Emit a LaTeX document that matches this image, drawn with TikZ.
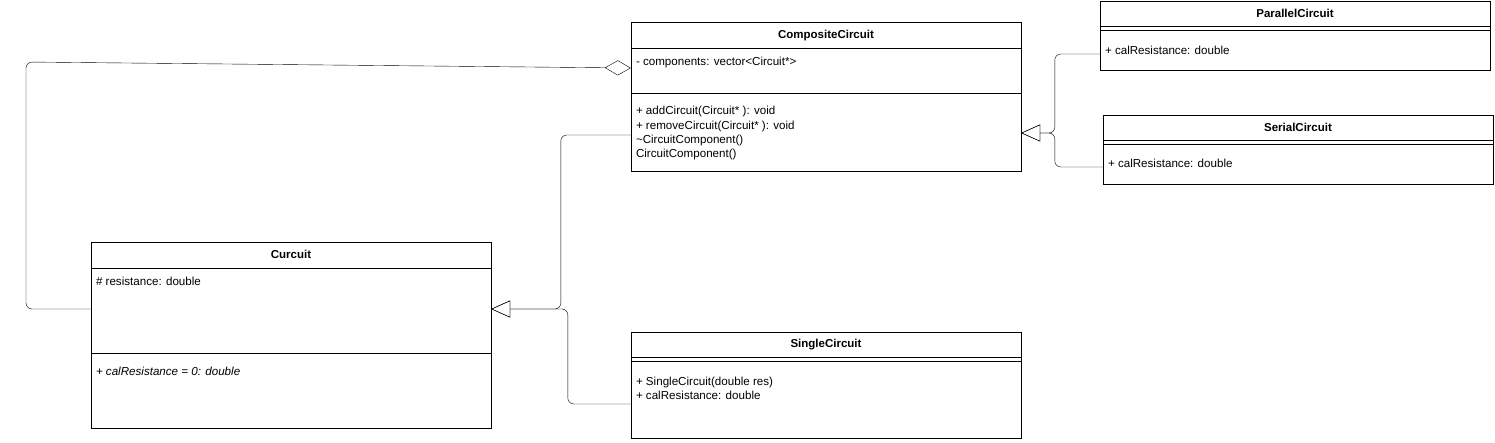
\documentclass[tikz,border=0pt]{standalone}
\usepackage{fontspec}
\setmainfont{Liberation Sans}
\usetikzlibrary{arrows.meta,positioning,calc}
\tikzset{
    x=1pt,y=-1pt,line width=1pt,
    cls/.style ={rectangle, draw, inner sep=0pt},
    title/.style = {inner sep=0pt, font=\fontsize{11.5}{14}\selectfont\bfseries},
    attr/.style = {inner sep=0pt, anchor=west, align=left, font=\fontsize{11.6}{14.3}\selectfont},
    inherit/.style={-{Triangle[open,length=19pt,width=17pt]}, rounded corners=6pt},
    aggr/.style={-{Diamond[open,length=26pt,width=15pt]}, rounded corners=6pt}
}

\begin{document}
\begin{tikzpicture}
	\useasboundingbox (0,0) rectangle (1495,442);

	% class boxes
	\node[cls, minimum width=390, minimum height=149] (comp) at (826,96.5) {};
	\node[cls, minimum width=390, minimum height=69] (par) at (1295,35.5) {};
	\node[cls, minimum width=390, minimum height=69] (ser) at (1298,149.5) {};
	\node[cls, minimum width=400, minimum height=186] (cur) at (291,335) {};
	\node[cls, minimum width=390, minimum height=106] (sing) at (826,385) {};

	% separators
	\draw ([yshift=-26]comp.north west) -- ([yshift=-26]comp.north east);
	\draw ([yshift=-71]comp.north west) -- ([yshift=-71]comp.north east);
	\draw ([yshift=-26]cur.north west) -- ([yshift=-26]cur.north east);
	\draw ([yshift=-111]cur.north west) -- ([yshift=-111]cur.north east);
	\foreach \c in {par,ser,sing}{
		\draw ([yshift=-25]\c.north west) -- ([yshift=-25]\c.north east);
		\draw ([yshift=-29]\c.north west) -- ([yshift=-29]\c.north east);
	}

	% titles
	\node[title] (compT) at ([yshift=-13.5]comp.north) {CompositeCircuit};
	\node[title] (parT) at ([yshift=-13]par.north) {ParallelCircuit};
	\node[title] (serT) at ([yshift=-13]ser.north) {SerialCircuit};
	\node[title] (curT) at ([yshift=-13]cur.north) {Curcuit};
	\node[title] (singT) at ([yshift=-13]sing.north) {SingleCircuit};

	% members
	\node[attr] (compA) at ([xshift=5,yshift=-40.5]comp.north west) {- components: vector<Circuit*>};
	\node[attr] (compM) at ([xshift=5,yshift=-111.5]comp.north west)
		{+ addCircuit(Circuit* ): void\\+ removeCircuit(Circuit* ): void\\\char`~CircuitComponent()\\CircuitComponent()};
	\node[attr] (parM) at ([xshift=5,yshift=-49.5]par.north west) {+ calResistance: double};
	\node[attr] (serM) at ([xshift=5,yshift=-48.5]ser.north west) {+ calResistance: double};
	\node[attr] (curA) at ([xshift=5,yshift=-39.5]cur.north west) {\# resistance: double};
	\node[attr] (curM) at ([xshift=5,yshift=-129.5]cur.north west) {\itshape + calResistance = 0: double};
	\node[attr] (singM) at ([xshift=5,yshift=-56.5]sing.north west)
		{+ SingleCircuit(double res)\\+ calResistance: double};

	% connectors
	\coordinate (bend) at (26,62);
	\draw[aggr] ([yshift=26]cur.west) -| (bend) -- ([yshift=28.5]comp.west);
	\draw[inherit] ([yshift=-38.5]comp.west) -- ++(-70,0) |- ([yshift=26]cur.east);
	\draw[inherit] ([yshift=-19]sing.west) -- ++(-63,0) |- ([yshift=26]cur.east);
	\draw[inherit] ([yshift=-18.5]par.west) -- ++(-45,0) |- ([yshift=-36.5]comp.east);
	\draw[inherit] ([yshift=-17.5]ser.west) -- ++(-48,0) |- ([yshift=-36.5]comp.east);
\end{tikzpicture}
\end{document}
